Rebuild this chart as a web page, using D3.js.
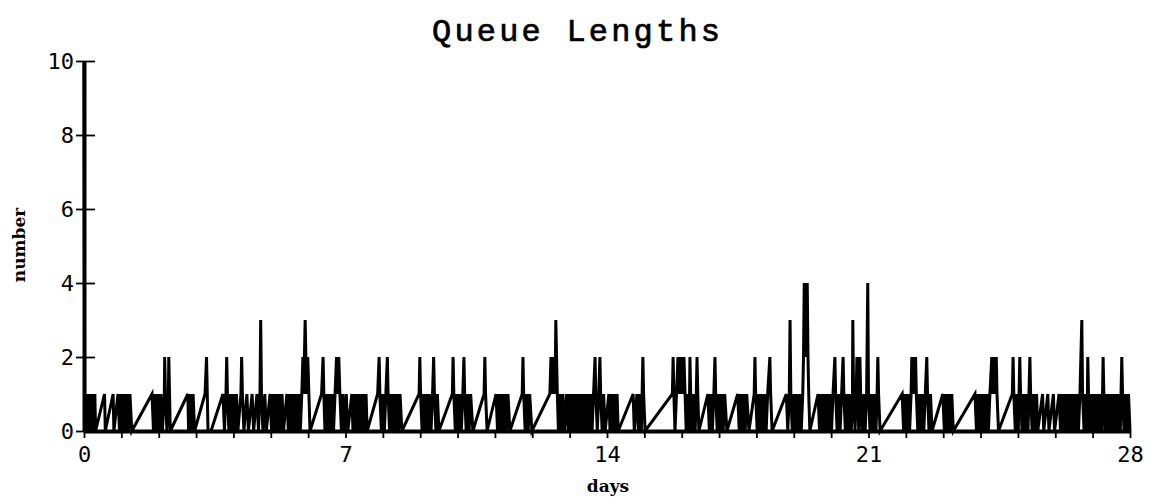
<!DOCTYPE html>
<html>
<head>
<meta charset="utf-8">
<script src="https://cdn.jsdelivr.net/npm/d3@7"></script>
<style>
  body { margin: 0; background: #fff; }
  svg { display: block; }
</style>
</head>
<body>
<div id="chart"></div>
<script>
const width = 1152, height = 500;

// queue length samples [day, number]
const week1 = [
  [0,10],[0.02,0],[0.05,1],[0.08,0],[0.11,1],[0.14,0],[0.17,1],[0.2,0],[0.23,1],[0.26,0],[0.29,1],[0.31,0],
  [0.55,1],[0.57,0],[0.78,1],[0.8,0],[0.91,1],[0.95,0],[0.99,1],[1.03,0],[1.07,1],[1.11,0],[1.15,1],[1.19,0],[1.23,1],[1.28,0],
  [1.82,1],[1.86,0],[1.9,1],[1.94,0],[1.98,1],[2.02,0],[2.06,1],[2.1,0],[2.15,1],[2.16,2],[2.18,1],[2.22,0],[2.26,1],[2.27,2],[2.29,1],[2.31,0],
  [2.78,1],[2.8,0],[2.84,1],[2.88,0],[2.92,1],[2.96,0],
  [3.24,1],[3.28,2],[3.3,1],[3.32,0],[3.4,0],
  [3.72,1],[3.76,0],[3.8,1],[3.82,2],[3.84,1],[3.88,0],[3.92,1],[3.96,0],[4.0,1],[4.04,0],
  [4.08,1],[4.12,0],[4.2,1],[4.22,2],[4.24,1],[4.28,0],[4.36,1],[4.4,0],[4.5,1],[4.54,0],[4.63,1],[4.67,0],[4.71,1],[4.73,3],[4.75,1],[4.79,0],[4.84,1],[4.88,0],
  [4.98,1],[5.02,0],[5.06,1],[5.1,0],[5.14,1],[5.18,0],[5.22,1],[5.26,0],[5.3,1],[5.34,0],
  [5.43,1],[5.47,0],[5.51,1],[5.55,0],[5.59,1],[5.63,0],[5.67,1],[5.71,0],[5.75,1],[5.79,0],[5.83,1],[5.86,2],[5.89,1],[5.9,2],[5.92,3],[5.94,2],[5.97,1],[5.99,2],[6.02,1],[6.05,0],
  [6.36,1],[6.4,2],[6.42,1],[6.45,0],[6.48,1],[6.52,0],[6.56,1],[6.6,0],[6.64,1],[6.68,0],[6.72,1],[6.76,2],[6.8,1],[6.82,2],[6.85,1],[6.89,0],[6.93,1],[6.97,0]
];

const week2 = [
  [7.02,1],[7.06,0],[7.17,1],[7.2,0],[7.24,1],[7.28,0],[7.32,1],[7.35,0],[7.39,1],[7.43,0],[7.47,1],[7.51,0],[7.55,1],[7.58,0],
  [7.86,1],[7.9,2],[7.92,1],[7.96,0],[8.0,1],[8.04,0],[8.08,1],[8.12,2],[8.14,1],[8.18,0],[8.22,1],[8.26,0],[8.3,1],[8.34,0],[8.38,1],[8.42,0],[8.46,1],[8.51,0],
  [8.97,1],[8.99,2],[9.01,1],[9.05,0],[9.09,1],[9.13,0],[9.17,1],[9.21,0],[9.25,1],[9.29,0],[9.33,1],[9.36,2],[9.38,1],[9.42,0],[9.46,1],[9.5,0],
  [9.86,1],[9.88,2],[9.9,1],[9.94,0],[9.98,1],[10.02,0],[10.06,1],[10.1,0],[10.14,1],[10.17,2],[10.19,1],[10.23,0],[10.27,1],[10.31,0],[10.35,1],[10.41,0],
  [10.71,1],[10.73,2],[10.75,1],[10.79,0],
  [11.03,1],[11.07,0],[11.11,1],[11.15,0],[11.19,1],[11.23,0],[11.27,1],[11.31,0],[11.35,1],[11.4,0],
  [11.73,1],[11.75,2],[11.77,1],[11.81,0],[11.85,1],[11.89,0],[11.93,1],[11.99,0],
  [12.47,1],[12.5,2],[12.54,1],[12.56,2],[12.6,1],[12.62,2],[12.63,3],[12.65,2],[12.67,1],[12.7,0],
  [12.74,1],[12.78,0],[12.82,1],[12.86,0],[12.92,1],[12.96,0],[13.0,1],[13.04,0],[13.08,1],[13.12,0],[13.16,1],[13.2,0],[13.24,1],[13.28,0],
  [13.32,1],[13.36,0],[13.4,1],[13.44,0],[13.48,1],[13.52,0],[13.56,1],[13.6,0],[13.64,1],[13.68,2],[13.7,1],[13.74,0],[13.78,1],[13.81,2],[13.83,1],[13.87,0],[13.91,1],[13.95,0]
];

const week3 = [
  [14.05,1],[14.08,0],[14.12,1],[14.16,0],[14.2,1],[14.24,0],[14.27,1],[14.3,0],
  [14.7,1],[14.73,0],[14.8,1],[14.84,0],[14.88,1],[14.92,0],[14.96,2],[14.98,1],[15.02,0],
  [15.75,1],[15.77,2],[15.79,1],[15.82,0],[15.86,1],[15.9,2],[15.92,1],[15.94,2],[15.96,1],[15.98,2],[16.0,1],[16.02,2],[16.04,1],[16.06,2],[16.09,1],[16.12,0],
  [16.16,1],[16.2,0],[16.22,2],[16.24,1],[16.28,0],[16.32,1],[16.36,0],[16.39,1],[16.41,2],[16.43,1],[16.46,0],
  [16.7,1],[16.74,0],[16.78,1],[16.82,0],[16.86,1],[16.89,2],[16.91,1],[16.95,0],[16.99,1],[17.03,0],[17.07,1],[17.11,0],[17.15,1],[17.21,0],
  [17.5,1],[17.54,0],[17.58,1],[17.62,0],[17.66,1],[17.7,0],[17.74,1],[17.8,0],
  [17.94,1],[17.96,2],[17.98,1],[18.02,0],[18.06,1],[18.1,0],[18.14,1],[18.18,0],[18.22,1],[18.26,0],[18.3,1],[18.36,2],[18.38,1],[18.42,0],
  [18.8,1],[18.84,0],[18.88,1],[18.9,3],[18.92,1],[18.96,0],[19.0,1],[19.04,0],[19.08,1],[19.12,0],[19.16,1],[19.2,0],[19.24,1],
  [19.26,2],[19.28,4],[19.3,2],[19.32,4],[19.34,3],[19.36,4],[19.38,2],[19.4,1],[19.43,0],
  [19.65,1],[19.69,0],[19.73,1],[19.77,0],[19.81,1],[19.85,0],[19.89,1],[19.93,0],[19.97,1],[20.01,0],[20.05,1],[20.1,2],[20.12,1],[20.16,0],
  [20.2,1],[20.24,0],[20.28,1],[20.32,2],[20.34,1],[20.38,0],[20.42,1],[20.46,0],[20.5,1],[20.54,0],[20.57,1],[20.58,3],[20.6,1],[20.64,0],
  [20.67,1],[20.69,2],[20.71,1],[20.74,0],[20.77,2],[20.79,1],[20.83,0],[20.87,1],[20.91,0],[20.95,1],[20.98,4],[21.0,1],[21.04,0]
];

const week4 = [
  [21.08,1],[21.12,0],[21.16,1],[21.2,0],[21.23,1],[21.25,2],[21.27,1],[21.31,0],
  [21.9,1],[21.94,0],[21.98,1],[22.02,0],[22.06,1],[22.1,0],[22.14,1],[22.16,2],[22.19,1],[22.21,2],[22.24,1],[22.26,2],[22.28,1],[22.32,0],
  [22.36,1],[22.4,0],[22.44,1],[22.48,0],[22.52,1],[22.56,2],[22.58,1],[22.62,0],[22.66,1],[22.7,0],
  [22.99,1],[23.03,0],[23.07,1],[23.11,0],[23.15,1],[23.19,0],[23.23,1],[23.27,0],
  [23.85,1],[23.89,0],[23.93,1],[23.97,0],[24.01,1],[24.05,0],[24.09,1],[24.13,0],[24.17,1],[24.21,0],[24.25,1],[24.3,2],[24.32,1],[24.36,2],[24.38,1],[24.42,2],[24.44,1],[24.48,0],
  [24.85,1],[24.87,2],[24.89,1],[24.93,0],[24.97,1],[25.01,0],[25.05,2],[25.07,1],[25.11,0],[25.15,1],[25.19,0],[25.23,1],[25.27,0],[25.32,2],[25.34,1],[25.38,0],[25.42,1],[25.46,0],[25.5,1],[25.53,0],
  [25.66,1],[25.69,0],[25.8,1],[25.83,0],[25.95,1],[25.98,0],
  [26.1,1],[26.14,0],[26.18,1],[26.22,0],[26.26,1],[26.3,0],[26.34,1],[26.38,0],[26.42,1],[26.46,0],[26.5,1],[26.54,0],[26.58,1],[26.62,0],[26.66,1],[26.71,3],[26.73,1],[26.77,0],
  [26.81,1],[26.85,0],[26.87,2],[26.89,1],[26.93,0],[26.97,1],[27.01,0],[27.05,1],[27.09,0],[27.13,1],[27.17,0],[27.21,1],[27.25,0],[27.28,2],[27.3,1],[27.34,0],
  [27.38,1],[27.42,0],[27.46,1],[27.5,0],[27.54,1],[27.58,0],[27.62,1],[27.66,0],[27.7,1],[27.74,0],[27.78,2],[27.8,1],[27.84,0],[27.88,1],[27.92,0],[27.96,1],[28.0,0]
];

const yTicks = [0, 2, 4, 6, 8, 10];
const xLabels = [0, 7, 14, 21, 28];
const xMinor = d3.range(0, 29);

const series = week1.concat(week2, week3, week4);

var svg = d3.select("#chart")
  .append("svg")
  .attr("width", width)
  .attr("height", height)
  .attr("viewBox", [0, 0, width, height]);

const x = d3.scaleLinear().domain([0, 28]).range([84, 1130]);
const y = d3.scaleLinear().domain([0, 10]).range([431, 61]);

const tickFont = "'DejaVu Sans Mono', monospace";

// x axis: a tick per day, labels each week
const xAxis = svg.append("g")
  .attr("transform", `translate(0,${y(0)})`)
  .call(d3.axisBottom(x)
    .tickValues(xMinor)
    .tickSizeInner(7)
    .tickSizeOuter(0)
    .tickFormat(d => xLabels.includes(d) ? d : ""));
xAxis.select(".domain").attr("stroke-width", 4);
xAxis.selectAll(".tick line").attr("stroke-width", 1.8);
xAxis.selectAll(".tick text")
  .attr("y", 24)
  .attr("dy", "0.32em")
  .style("font-family", tickFont)
  .style("font-size", "22px")
  .attr("fill", "#000");

// y axis: ticks cross the axis line
const yAxis = svg.append("g")
  .attr("transform", `translate(${x(0)},0)`)
  .call(d3.axisLeft(y)
    .tickValues(yTicks)
    .tickSizeOuter(0)
    .tickSizeInner(8));
yAxis.select(".domain").attr("stroke-width", 4);
yAxis.selectAll(".tick line").attr("x1", 11).attr("x2", -8).attr("stroke-width", 1.8);
yAxis.selectAll(".tick text")
  .attr("x", -10)
  .style("font-family", tickFont)
  .style("font-size", "22px")
  .attr("fill", "#000");

// the queue length trace
const line = d3.line()
  .x(d => x(d[0]))
  .y(d => y(d[1]));

svg.append("path")
  .datum(series)
  .attr("d", line)
  .attr("fill", "none")
  .attr("stroke", "#000")
  .attr("stroke-width", 3);

// titles
svg.append("text")
  .attr("x", 576)
  .attr("y", 41)
  .attr("text-anchor", "middle")
  .attr("textLength", 288)
  .attr("lengthAdjust", "spacing")
  .style("font-family", "'Liberation Mono', monospace")
  .style("font-size", "32px")
  .attr("stroke", "#000")
  .attr("stroke-width", 0.7)
  .text("Queue Lengths");

svg.append("text")
  .attr("x", 608)
  .attr("y", 492)
  .attr("text-anchor", "middle")
  .style("font-family", "'DejaVu Serif', serif")
  .style("font-weight", "bold")
  .style("font-size", "17px")
  .text("days");

svg.append("text")
  .attr("transform", "translate(25,245) rotate(-90)")
  .attr("text-anchor", "middle")
  .style("font-family", "'DejaVu Serif', serif")
  .style("font-weight", "bold")
  .style("font-size", "17px")
  .text("number");
</script>
</body>
</html>
